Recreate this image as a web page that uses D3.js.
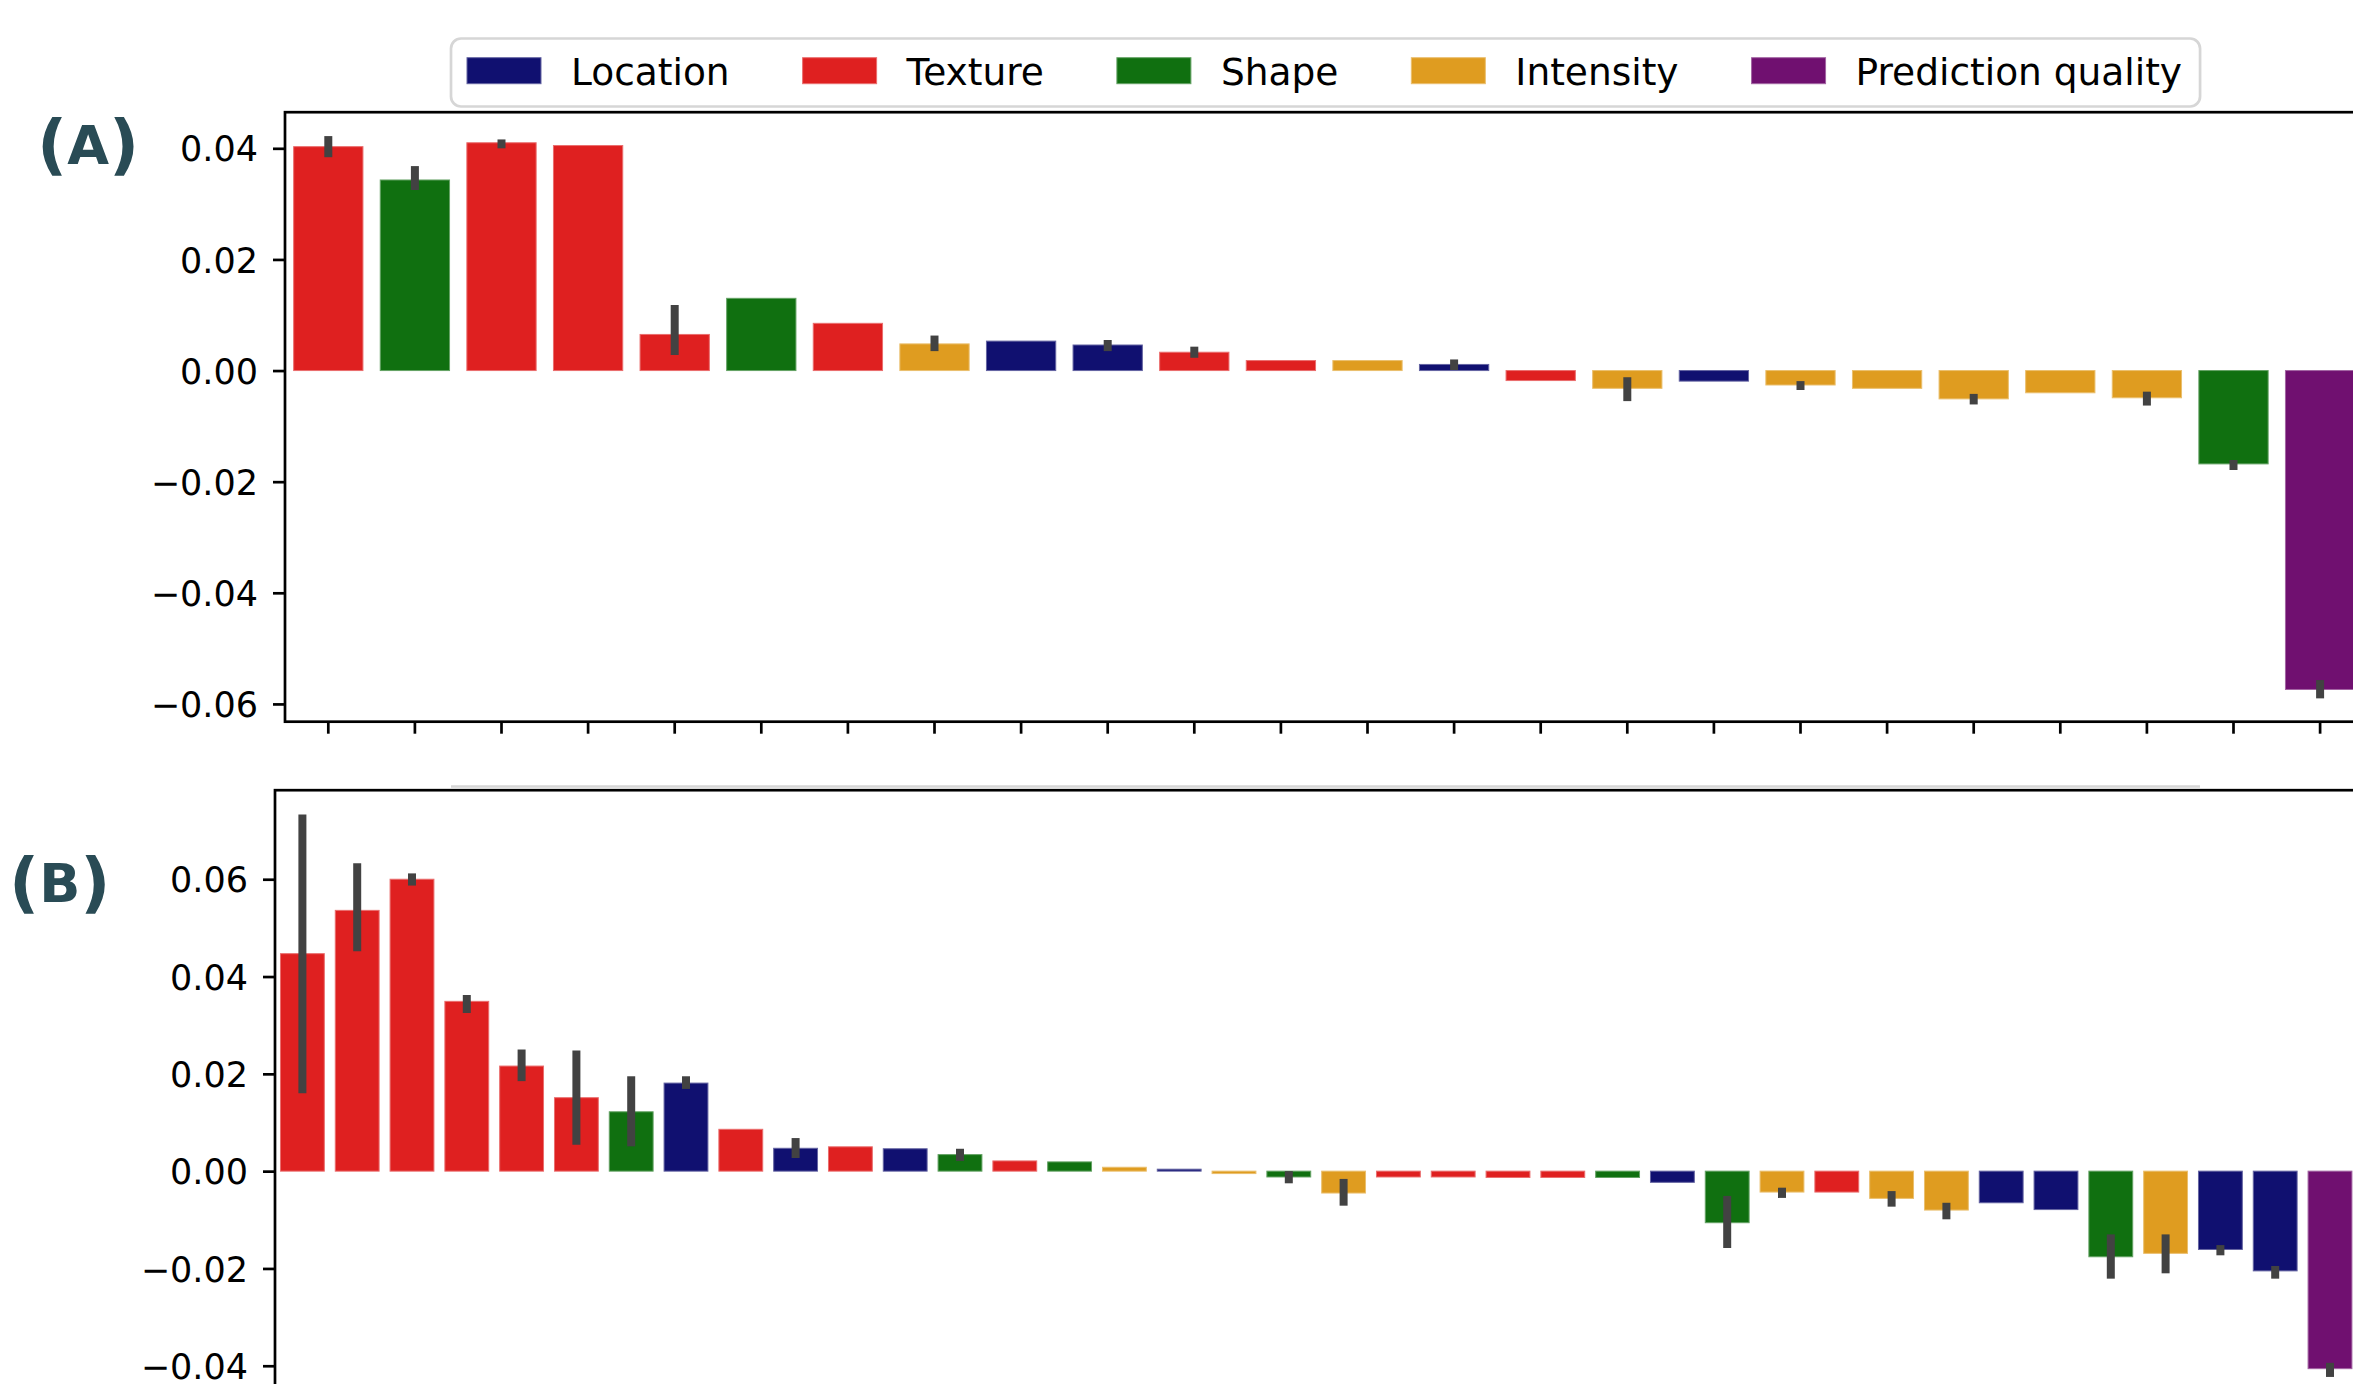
<!DOCTYPE html>
<html>
<head>
<meta charset="utf-8">
<script src="https://cdn.jsdelivr.net/npm/d3@7"></script>
<style>
  html, body { margin: 0; padding: 0; background: #ffffff; }
  svg { display: block; }
</style>
</head>
<body>
<svg id="chart" width="2353" height="1384"></svg>
<script>
// Feature groups and their colours (legend order)
const groups = ["Location", "Texture", "Shape", "Intensity", "Prediction quality"];
const groupColors = ["#101070", "#df2020", "#107010", "#df9c20", "#701070"];

// Panel (A): feature group of each bar, mean importance, and error-bar interval
const groupsA = ["Texture", "Shape", "Texture", "Texture", "Texture", "Shape", "Texture", "Intensity",
  "Location", "Location", "Texture", "Texture", "Intensity", "Location", "Texture", "Intensity",
  "Location", "Intensity", "Intensity", "Intensity", "Intensity", "Intensity", "Shape", "Prediction quality"];
const valuesA = [0.0403, 0.0343, 0.0410, 0.0405, 0.0065, 0.0130, 0.0085, 0.0048,
  0.0053, 0.0046, 0.0033, 0.0018, 0.0018, 0.0011, -0.0018, -0.0032,
  -0.0019, -0.0026, -0.0032, -0.0051, -0.0040, -0.0049, -0.0168, -0.0574];
const errLowA = [0.0384, 0.0325, 0.0400, null, 0.0028, null, null, 0.0035,
  null, 0.0035, 0.0023, null, null, 0.0001, null, -0.0055,
  null, -0.0035, null, -0.0061, null, -0.0063, -0.0179, -0.0590];
const errHighA = [0.0422, 0.0368, 0.0416, null, 0.0118, null, null, 0.0063,
  null, 0.0055, 0.0043, null, null, 0.0020, null, -0.0012,
  null, -0.0019, null, -0.0042, null, -0.0038, -0.0161, -0.0557];
const ticksA = [0.04, 0.02, 0.00, -0.02, -0.04, -0.06];

// Panel (B)
const groupsB = ["Texture", "Texture", "Texture", "Texture", "Texture", "Texture", "Shape", "Location",
  "Texture", "Location", "Texture", "Location", "Shape", "Texture", "Shape", "Intensity",
  "Location", "Intensity", "Shape", "Intensity", "Texture", "Texture", "Texture", "Texture",
  "Shape", "Location", "Shape", "Intensity", "Texture", "Intensity", "Intensity", "Location",
  "Location", "Shape", "Intensity", "Location", "Location", "Prediction quality"];
const valuesB = [0.0447, 0.0536, 0.0600, 0.0349, 0.0216, 0.0151, 0.0122, 0.0181,
  0.0086, 0.0047, 0.0050, 0.0046, 0.0034, 0.0021, 0.0019, 0.0008,
  0.0004, -0.0005, -0.0012, -0.0045, -0.0012, -0.0012, -0.0013, -0.0013,
  -0.0013, -0.0023, -0.0106, -0.0043, -0.0043, -0.0056, -0.0080, -0.0065,
  -0.0079, -0.0176, -0.0169, -0.0161, -0.0205, -0.0406];
const errLowB = [0.0160, 0.0452, 0.0587, 0.0325, 0.0185, 0.0054, 0.0051, 0.0169,
  null, 0.0027, null, null, 0.0021, null, null, null,
  null, null, -0.0025, -0.0071, null, null, null, null,
  null, null, -0.0158, -0.0055, null, -0.0073, -0.0099, null,
  null, -0.0221, -0.0210, -0.0173, -0.0221, -0.0423];
const errHighB = [0.0733, 0.0633, 0.0612, 0.0362, 0.0250, 0.0248, 0.0195, 0.0195,
  null, 0.0068, null, null, 0.0046, null, null, null,
  null, null, 0.0000, -0.0016, null, null, null, null,
  null, null, -0.0051, -0.0034, null, -0.0041, -0.0065, null,
  null, -0.0130, -0.0130, -0.0152, -0.0195, -0.0394];
const ticksB = [0.06, 0.04, 0.02, 0.00, -0.02, -0.04];

const svg = d3.select("#chart");
const color = d3.scaleOrdinal().domain(groups).range(groupColors);
const fmt = d3.format(".2f");
const FONT = "'DejaVu Sans', sans-serif";
const labelColor = "#294b55";

function lighten(c) {
  return d3.interpolateRgb(c, "#ffffff")(0.35);
}

function drawPanel(cfg) {
  const n = cfg.values.length;
  const x = d3.scaleBand()
    .domain(d3.range(n))
    .range([cfg.left, cfg.left + n * cfg.step])
    .paddingInner(0.2)
    .paddingOuter(0.1);
  const y = d3.scaleLinear().domain(cfg.yDomain).range([cfg.bottom, cfg.top]);

  const g = svg.append("g");

  // bars
  g.append("g").selectAll("rect")
    .data(cfg.values)
    .join("rect")
    .attr("x", (d, i) => x(i))
    .attr("width", x.bandwidth())
    .attr("y", d => Math.min(y(d), y(0)))
    .attr("height", d => Math.abs(y(d) - y(0)))
    .attr("fill", (d, i) => color(cfg.groups[i]))
    .attr("stroke", (d, i) => lighten(color(cfg.groups[i])))
    .attr("stroke-width", 1);

  // error bars
  const errs = cfg.values.map((d, i) => ({ i, lo: cfg.errLow[i], hi: cfg.errHigh[i] }))
    .filter(e => e.lo !== null && e.hi !== null);
  g.append("g").selectAll("line")
    .data(errs)
    .join("line")
    .attr("x1", e => x(e.i) + x.bandwidth() / 2)
    .attr("x2", e => x(e.i) + x.bandwidth() / 2)
    .attr("y1", e => y(e.lo))
    .attr("y2", e => y(e.hi))
    .attr("stroke", "#424242")
    .attr("stroke-width", 8)
    .attr("stroke-linecap", "butt");

  // y axis
  const yAxis = d3.axisLeft(y).tickValues(cfg.ticks).tickFormat(fmt)
    .tickSize(12).tickPadding(15).tickSizeOuter(0);
  const ya = g.append("g").attr("transform", `translate(${cfg.left},0)`).call(yAxis);
  ya.select(".domain").remove();
  ya.selectAll(".tick line").attr("stroke", "#000").attr("stroke-width", 2.7);
  ya.selectAll(".tick text")
    .attr("fill", "#000")
    .style("font-family", FONT)
    .style("font-size", "35px")
    .attr("dy", "0.36em");

  // x axis ticks (unlabelled)
  if (cfg.xTicks) {
    const xAxis = d3.axisBottom(x).tickFormat("").tickSize(12).tickSizeOuter(0);
    const xa = g.append("g").attr("transform", `translate(0,${cfg.bottom})`).call(xAxis);
    xa.select(".domain").remove();
    xa.selectAll(".tick line").attr("stroke", "#000").attr("stroke-width", 2.7);
  }

  // frame
  g.append("rect")
    .attr("x", cfg.left)
    .attr("y", cfg.top)
    .attr("width", n * cfg.step)
    .attr("height", cfg.bottom - cfg.top)
    .attr("fill", "none")
    .attr("stroke", "#000")
    .attr("stroke-width", 2.7);

  // panel letter
  const t = svg.append("text")
    .attr("x", cfg.labelX)
    .attr("y", cfg.labelY)
    .attr("fill", labelColor)
    .style("font-family", FONT)
    .style("font-weight", "bold");
  t.append("tspan").style("font-size", "66px").attr("dy", 3).text("(");
  t.append("tspan").style("font-size", "54px").attr("dy", -3).text(cfg.letter);
  t.append("tspan").style("font-size", "66px").attr("dy", 3).text(")");
}

drawPanel({
  groups: groupsA, values: valuesA, errLow: errLowA, errHigh: errHighA, ticks: ticksA,
  left: 285, step: 86.6, top: 112.2, bottom: 721.7, yDomain: [-0.0632, 0.0465],
  xTicks: true, letter: "A", labelX: 37, labelY: 164
});

drawPanel({
  groups: groupsB, values: valuesB, errLow: errLowB, errHigh: errHighB, ticks: ticksB,
  left: 275, step: 54.8, top: 790.2, bottom: 1414.4, yDomain: [-0.05, 0.0783],
  xTicks: false, letter: "B", labelX: 9, labelY: 901.7
});

// faint frame edge of the lower legend, just above panel (B)
svg.append("line")
  .attr("x1", 451).attr("x2", 2200)
  .attr("y1", 786.5).attr("y2", 786.5)
  .attr("stroke", "#d6d6d6").attr("stroke-width", 2.5);

// legend
const legend = svg.append("g");
const legendFrame = legend.append("rect")
  .attr("x", 451).attr("y", 38.5)
  .attr("height", 68).attr("rx", 10).attr("ry", 10)
  .attr("fill", "#ffffff")
  .attr("stroke", "#d6d6d6")
  .attr("stroke-width", 2.7);

let lx = 467;
groups.forEach((name, i) => {
  legend.append("rect")
    .attr("x", lx).attr("y", 57.7)
    .attr("width", 74).attr("height", 26)
    .attr("fill", groupColors[i])
    .attr("stroke", lighten(groupColors[i]))
    .attr("stroke-width", 1);
  const txt = legend.append("text")
    .attr("x", lx + 104)
    .attr("y", 85)
    .attr("fill", "#000")
    .style("font-family", FONT)
    .style("font-size", "37.5px")
    .text(name);
  const w = txt.node().getComputedTextLength();
  lx = lx + 104 + w + 73;
});
legendFrame.attr("width", lx - 73 + 18 - 451);
</script>
</body>
</html>
